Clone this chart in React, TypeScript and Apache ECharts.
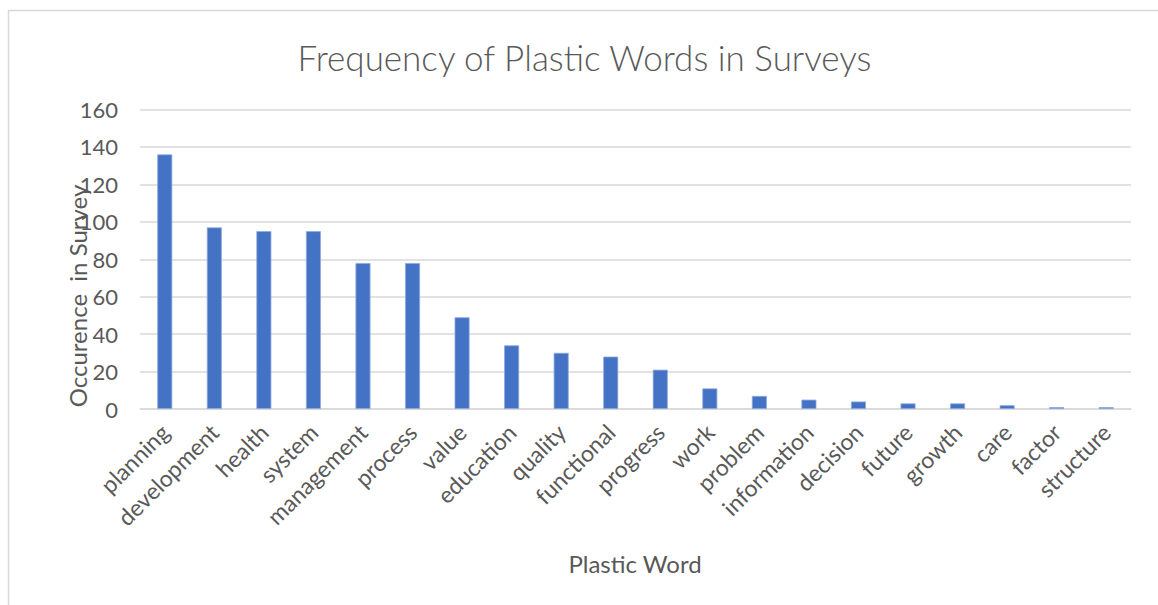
import React, { useEffect, useRef } from "react";
import * as echarts from "echarts";

// Word counts from the surveys
const words = [
  "planning", "development", "health", "system", "management", "process",
  "value", "education", "quality", "functional", "progress", "work",
  "problem", "information", "decision", "future", "growth", "care",
  "factor", "structure",
];
const occurrences = [136, 97, 95, 95, 78, 78, 49, 34, 30, 28, 21, 11, 7, 5, 4, 3, 3, 2, 1, 1];

const yTicks = { min: 0, max: 160, interval: 20 };

const chartTitle = "Frequency of Plastic Words in Surveys";
const xTitle = "Plastic Word";
const yTitle = "Occurence  in Survey";

const FONT = "Lato, 'Open Sans', sans-serif";
const TEXT = "#595959";
const GRID = "#d9d9d9";

export default function App() {
  const ref = useRef<HTMLDivElement>(null);

  useEffect(() => {
    if (!ref.current) return;
    const chart = echarts.init(ref.current, undefined, { renderer: "svg" });
    chart.setOption({
      animation: false,
      backgroundColor: "#ffffff",
      textStyle: { fontFamily: FONT, color: TEXT },
      grid: { left: 140, right: 27, top: 109.5, bottom: 196, containLabel: false },
      xAxis: {
        type: "category",
        data: words,
        axisLine: { lineStyle: { color: GRID, width: 1.5 } },
        axisTick: { show: false },
        axisLabel: {
          interval: 0,
          rotate: 45,
          margin: 19,
          fontSize: 23,
          color: TEXT,
          fontFamily: FONT,
        },
      },
      yAxis: {
        type: "value",
        min: yTicks.min,
        max: yTicks.max,
        interval: yTicks.interval,
        axisLine: { show: false },
        axisTick: { show: false },
        splitLine: { lineStyle: { color: GRID, width: 1.5 } },
        axisLabel: { fontSize: 22, color: TEXT, margin: 22, fontFamily: FONT },
      },
      series: [
        {
          type: "bar",
          data: occurrences,
          barWidth: 15,
          itemStyle: { color: "#4472c4", borderColor: "#8faadc", borderWidth: 0.8 },
        },
      ],
      graphic: [
        {
          type: "rect",
          shape: { x: 8.5, y: 10.5, width: 1160, height: 620 },
          style: { fill: "none", stroke: GRID, lineWidth: 1.5 },
          silent: true,
          z: -1,
        },
        {
          type: "text",
          x: 584.5,
          y: 57,
          style: {
            text: chartTitle,
            fontSize: 35,
            fontWeight: 300,
            fontFamily: FONT,
            fill: TEXT,
            align: "center",
            verticalAlign: "middle",
          },
        },
        {
          type: "text",
          x: 635,
          y: 563,
          style: {
            text: xTitle,
            fontSize: 24,
            fontFamily: FONT,
            fill: TEXT,
            align: "center",
            verticalAlign: "middle",
          },
        },
        {
          type: "text",
          x: 77,
          y: 296,
          rotation: Math.PI / 2,
          style: {
            text: yTitle,
            fontSize: 24,
            fontFamily: FONT,
            fill: TEXT,
            align: "center",
            verticalAlign: "middle",
          },
        },
      ],
    });
    return () => chart.dispose();
  }, []);

  return (
    <div
      ref={ref}
      style={{ position: "fixed", left: 0, top: 0, width: 1158, height: 605 }}
    />
  );
}
